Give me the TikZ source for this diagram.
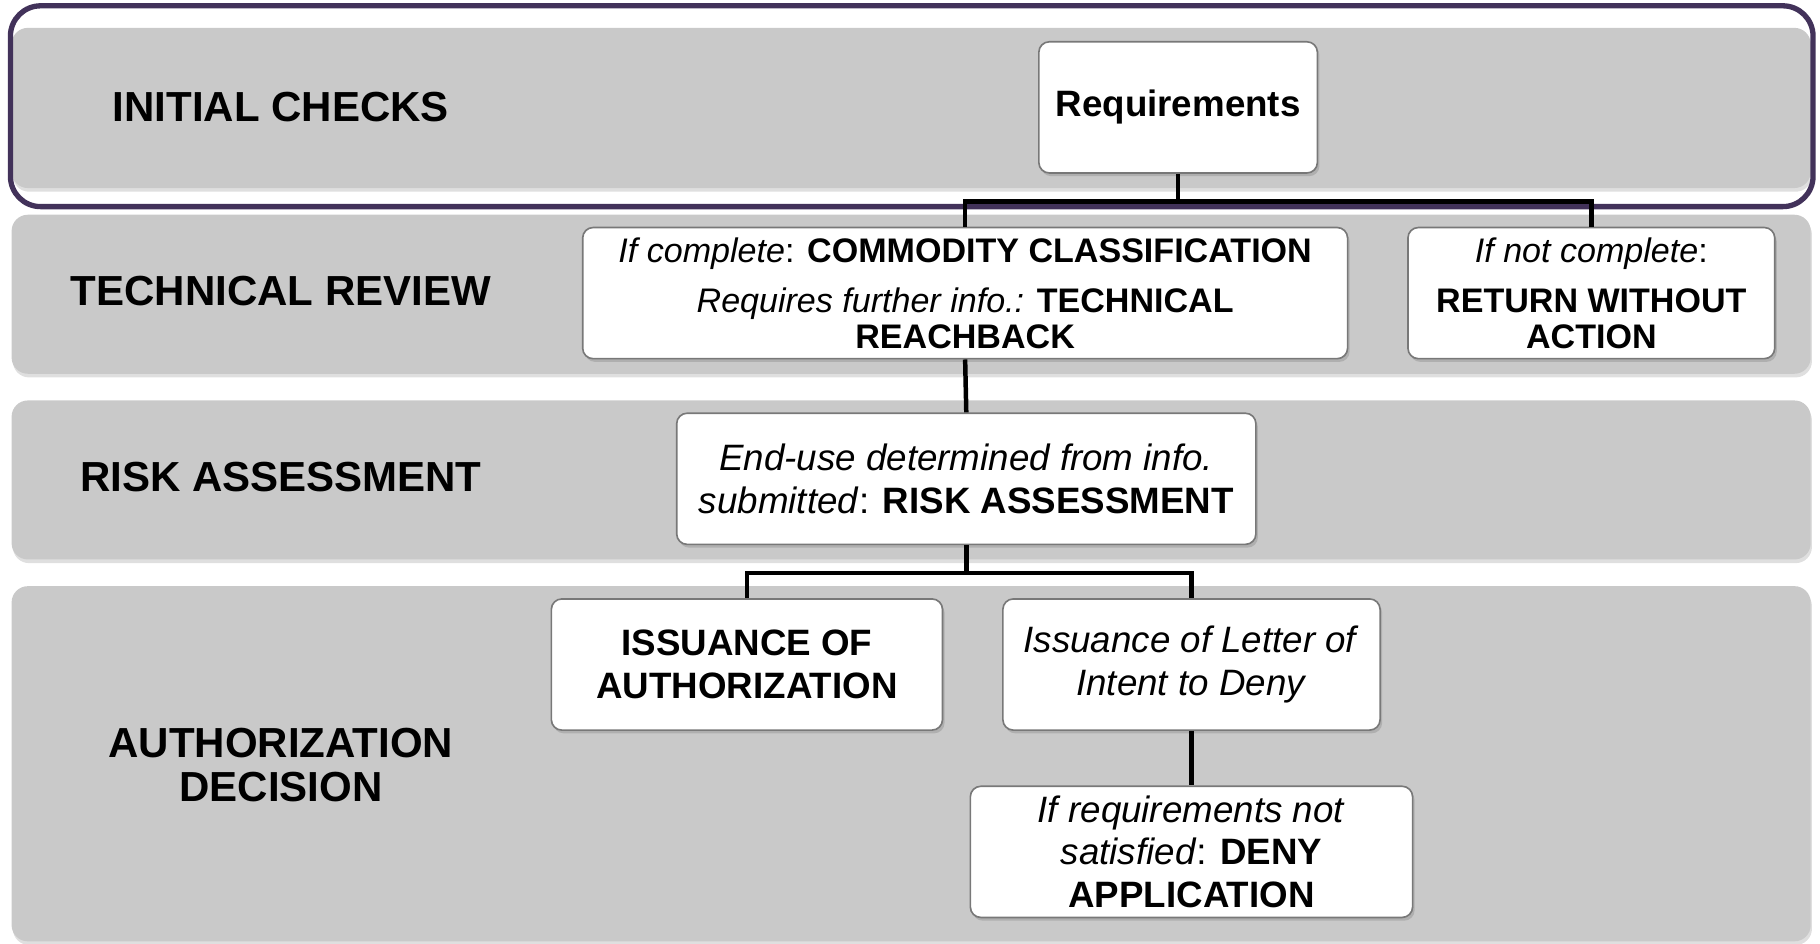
\documentclass[tikz,border=0pt]{standalone}
\usepackage{fontspec}
\setmainfont{Liberation Sans}
\usepackage{tikz}
\usetikzlibrary{positioning, shadows, calc}
\usepackage{xcolor}

\definecolor{bandgray}{RGB}{201,201,201}
\definecolor{framepurple}{RGB}{66,50,90}
\definecolor{boxedge}{RGB}{120,120,120}

\tikzset{
	band/.style={fill=bandgray, rounded corners=1.4mm,
		drop shadow={shadow xshift=0.3pt, shadow yshift=-0.9pt, opacity=0.25}},
	stage/.style={font=\fontsize{10.3}{10.6}\selectfont\bfseries, align=center},
	box/.style={draw=boxedge, line width=0.4pt, fill=white, rounded corners=0.9mm,
		inner sep=0pt, align=center, minimum height=11.3mm,
		drop shadow={shadow xshift=0.5pt, shadow yshift=-0.8pt, opacity=0.35}},
	bigtext/.style={font=\fontsize{9.0}{10.4}\selectfont},
	smalltext/.style={font=\fontsize{8.35}{8.7}\selectfont},
	conn/.style={line width=1.1pt}
}

\begin{document}
\begin{tikzpicture}[x=0.1mm, y=-0.1mm]
			% Fix the page size
			\useasboundingbox (0,0) rectangle (1568,813);
			
			% Draw the four stage bands and the frame round the first one
			\fill[band] (10,24) rectangle (1560,162);
			\fill[band] (10,185) rectangle (1560,322);
			\fill[band] (10,345) rectangle (1560,482);
			\fill[band] (10,505) rectangle (1560,811);
			\draw[framepurple, line width=1.3pt, rounded corners=2.6mm] (9,5) rectangle (1562,178);
			
			% Stage names
			\node[stage] (initial) at (242,92) {INITIAL CHECKS};
			\node[stage] (technical) at (242,251) {TECHNICAL REVIEW};
			\node[stage] (risk) at (242,411) {RISK ASSESSMENT};
			\node[stage] (decision) at (242,659) {AUTHORIZATION\\DECISION};
			
			% The boxes
			\node[box, bigtext, minimum width=24mm] (req) at (1015,92.5) {\textbf{Requirements}};
			\node[box, smalltext, minimum width=65.9mm] (classif) at (831.5,252.5)
				{\textit{If complete}: \textbf{COMMODITY CLASSIFICATION}\\[3.6pt]
				\textit{Requires further info.:} \textbf{TECHNICAL}\\\textbf{REACHBACK}};
			\node[box, smalltext, minimum width=31.6mm] (noaction) at (1371,252.5)
				{\textit{If not complete}:\\[3.6pt]\textbf{RETURN WITHOUT}\\\textbf{ACTION}};
			\node[box, bigtext, minimum width=49.9mm] (assess) at (832.5,412.5)
				{\textit{End-use determined from info.}\\\textit{submitted}: \textbf{RISK ASSESSMENT}};
			\node[box, bigtext, minimum width=33.7mm] (issue) at (643.5,572.5)
				{\textbf{ISSUANCE OF}\\\textbf{AUTHORIZATION}};
			\node[box, bigtext, minimum width=32.5mm] (letter) at (1026.5,572.5)
				{\textit{Issuance of Letter of}\\\textit{Intent to Deny}};
			\node[box, bigtext, minimum width=38.1mm, below=4.7mm of letter] (deny)
				{\textit{If requirements not}\\\textit{satisfied}: \textbf{DENY}\\\textbf{APPLICATION}};
			
			% Connect the boxes
			\draw[conn] (req.south) -- ++(0,24) coordinate (split1);
			\draw[conn] (classif.north) |- (split1) -| (noaction.north);
			\draw[conn] (classif.south) -- (assess.north);
			\draw[conn] (assess.south) -- ++(0,24) coordinate (split2);
			\draw[conn] (issue.north) |- (split2) -| (letter.north);
			\draw[conn] (letter.south) -- (deny.north);
			
		\end{tikzpicture}
\end{document}
